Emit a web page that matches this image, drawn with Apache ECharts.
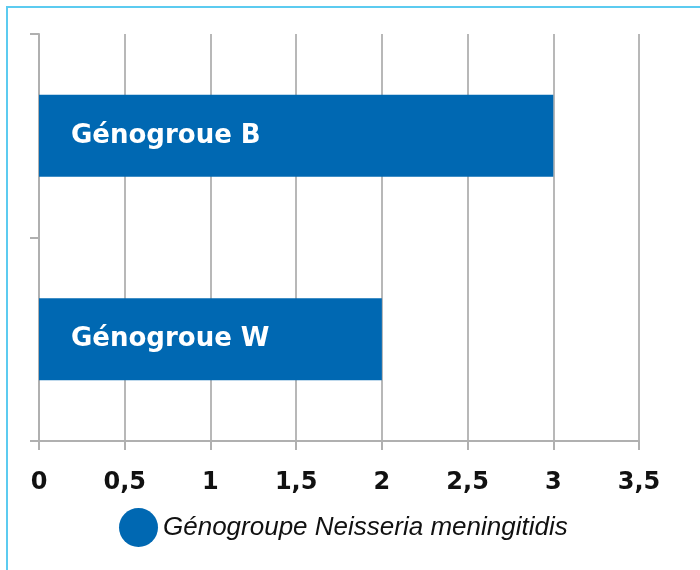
<!DOCTYPE html>
<html>
<head>
<meta charset="utf-8">
<script src="https://cdn.jsdelivr.net/npm/echarts@6/dist/echarts.min.js"></script>
<style>
  html, body { margin: 0; padding: 0; background: #fff; }
  #frame { position: absolute; left: 6px; top: 6px; width: 700px; height: 570px;
           border-left: 2px solid #5ccbf0; border-top: 2px solid #5ccbf0; }
  #chart { position: absolute; left: 0; top: 0; width: 700px; height: 570px; }
</style>
</head>
<body>
<div id="frame"></div>
<div id="chart"></div>
<script>
var categories = ['Génogroue B', 'Génogroue W'];
var values = [3, 2];
var seriesName = 'Génogroupe Neisseria meningitidis';

const mychart = echarts.init(document.getElementById('chart'))
mychart.setOption(getOption())

function getOption() {
  var option = {
    animation: false,
    grid: { left: 39, right: 61, top: 34, bottom: 129, containLabel: false },
    legend: {
      data: [seriesName],
      left: 114,
      top: 503,
      icon: 'circle',
      itemWidth: 39,
      itemHeight: 39,
      itemGap: 9,
      textStyle: { fontFamily: 'Liberation Sans', fontStyle: 'italic', fontSize: 26, color: '#111' }
    },
    xAxis: {
      type: 'value',
      min: 0,
      max: 3.5,
      interval: 0.5,
      axisLine: { show: true, lineStyle: { color: '#b0b0b0', width: 2 } },
      axisTick: { show: true, length: 9, lineStyle: { color: '#b0b0b0', width: 2 } },
      splitLine: { show: true, lineStyle: { color: '#b8b8b8', width: 2 } },
      axisLabel: {
        margin: 30,
        fontFamily: 'DejaVu Sans',
        fontWeight: 'bold',
        fontSize: 24,
        color: '#111',
        formatter: function (v) { return String(v).replace('.', ','); }
      }
    },
    yAxis: {
      type: 'category',
      inverse: true,
      data: categories,
      axisLine: { show: true, lineStyle: { color: '#b0b0b0', width: 2 } },
      axisTick: { show: true, length: 9, lineStyle: { color: '#b0b0b0', width: 2 } },
      axisLabel: { show: false }
    },
    series: [{
      name: seriesName,
      type: 'bar',
      data: values,
      barWidth: 82,
      itemStyle: { color: '#0068b2' },
      label: {
        show: true,
        position: 'insideLeft',
        distance: 32,
        formatter: function (p) { return p.name; },
        fontFamily: 'DejaVu Sans',
        fontWeight: 'bold',
        fontSize: 26,
        color: '#fff'
      }
    }]
  };
  return option;
}
</script>
</body>
</html>
